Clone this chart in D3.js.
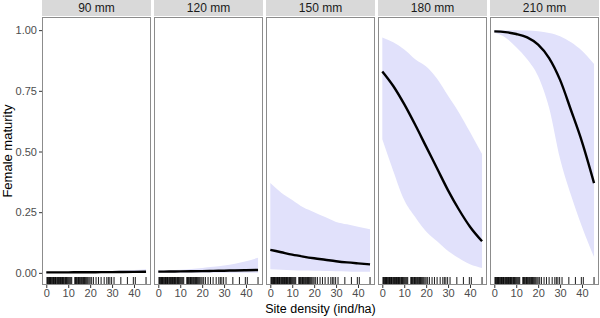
<!DOCTYPE html>
<html>
<head>
<meta charset="utf-8">
<script src="https://cdn.jsdelivr.net/npm/d3@7"></script>
<style>
  body { margin: 0; background: #fff; }
  text { font-family: "Liberation Sans", Arial, sans-serif; }
</style>
</head>
<body>
<div id="chart"></div>
<script>
// panels (fish size)
const panels = ["90 mm", "120 mm", "150 mm", "180 mm", "210 mm"];

// x positions where the fitted curve is read
const xGrid = [0, 5, 10, 15, 20, 25, 30, 35, 40, 45.5];

// fitted probability of maturity per panel
const fitValues = [
  [0.002, 0.002, 0.002, 0.0025, 0.0025, 0.003, 0.003, 0.0035, 0.004, 0.0045],
  [0.005, 0.0055, 0.006, 0.0065, 0.007, 0.008, 0.009, 0.010, 0.011, 0.012],
  [0.095, 0.085, 0.075, 0.067, 0.060, 0.054, 0.048, 0.043, 0.039, 0.035],
  [0.83, 0.77, 0.695, 0.61, 0.52, 0.43, 0.34, 0.26, 0.19, 0.13],
  [0.995, 0.992, 0.984, 0.97, 0.94, 0.885, 0.795, 0.67, 0.54, 0.37]
];

// confidence band, lower and upper
const lowerValues = [
  [0.0, 0.0, 0.0, 0.0, 0.0, 0.0, 0.0, 0.0, 0.0, 0.0],
  [0.0, 0.0, 0.0, 0.0, 0.0, 0.0, 0.0, 0.0, 0.0, 0.0],
  [0.015, 0.013, 0.011, 0.010, 0.009, 0.008, 0.007, 0.006, 0.005, 0.005],
  [0.55, 0.42, 0.30, 0.23, 0.17, 0.13, 0.09, 0.06, 0.035, 0.02],
  [0.99, 0.97, 0.93, 0.88, 0.81, 0.68, 0.47, 0.32, 0.19, 0.065]
];
const upperValues = [
  [0.003, 0.0035, 0.004, 0.005, 0.006, 0.007, 0.008, 0.010, 0.012, 0.015],
  [0.010, 0.011, 0.013, 0.016, 0.020, 0.025, 0.030, 0.038, 0.048, 0.062],
  [0.37, 0.33, 0.30, 0.27, 0.25, 0.23, 0.21, 0.20, 0.19, 0.18],
  [0.97, 0.95, 0.92, 0.88, 0.85, 0.80, 0.73, 0.66, 0.58, 0.49],
  [1.0, 1.0, 1.0, 0.998, 0.995, 0.988, 0.975, 0.95, 0.915, 0.86]
];

// observed site densities (rug)
const siteDensity = [
  0.3, 0.6, 0.9, 1.2, 1.5, 1.8, 2.0, 2.3, 2.7, 3.0, 3.3, 3.6, 3.9, 4.2, 4.5,
  4.9, 5.2, 5.5, 5.8, 6.1, 6.5, 6.8, 7.1, 7.4, 7.8, 8.1, 8.5, 8.8, 9.2, 9.6,
  10.0, 10.4, 10.8, 11.2, 11.6,
  13.0, 13.3, 13.7, 14.0, 14.4, 14.7, 15.1, 15.5, 15.9, 16.2, 16.6, 17.0,
  17.4, 17.8, 18.2, 18.6, 19.0, 19.5, 20.0, 20.7,
  21.5, 22.7, 23.8, 25.0, 26.4, 27.6, 28.3, 29.0, 29.8, 30.9, 34.0, 37.0,
  39.7, 40.6, 45.5
];

const xTicks = [0, 10, 20, 30, 40];
const yTicks = [0, 0.25, 0.5, 0.75, 1];

const W = 600, H = 318;
const padLeft = 42, padRight = 599, panelTop = 17, stripH = 16, panelBottom = 285;
const gap = 3;
const panelW = (padRight - padLeft - gap * (panels.length - 1)) / panels.length;

const svg = d3.select("#chart").append("svg")
  .attr("width", W).attr("height", H);

const y = d3.scaleLinear().domain([-0.05, 1.05]).range([panelBottom, panelTop + 1]);

// y axis on the first panel
const yAxis = svg.append("g")
  .attr("transform", `translate(${padLeft},0)`)
  .call(d3.axisLeft(y).tickValues(yTicks).tickFormat(d3.format(".2f")).tickSize(3).tickPadding(2));
yAxis.select(".domain").remove();
yAxis.selectAll("line").attr("stroke", "#333");
yAxis.selectAll("text").attr("fill", "#4d4d4d").style("font-size", "11px")
  .style("font-family", "Liberation Sans, Arial, sans-serif");

panels.forEach((name, i) => {
  const x0 = padLeft + i * (panelW + gap);
  const x = d3.scaleLinear().domain([-1.96, 47.76]).range([x0, x0 + panelW]);
  const g = svg.append("g");

  // strip
  g.append("rect")
    .attr("x", x0).attr("y", 0).attr("width", panelW).attr("height", stripH)
    .attr("fill", "#d9d9d9");
  g.append("text")
    .attr("x", x0 + panelW / 2).attr("y", stripH / 2 + 1)
    .attr("text-anchor", "middle").attr("dominant-baseline", "middle")
    .attr("fill", "#1a1a1a").style("font-size", "12px")
    .text(name);

  // confidence band
  const band = xGrid.map((xv, j) => ({ x: xv, lo: lowerValues[i][j], hi: upperValues[i][j] }));
  g.append("path")
    .datum(band)
    .attr("fill", "#e1e1fb")
    .attr("d", d3.area().x(d => x(d.x)).y0(d => y(d.lo)).y1(d => y(d.hi)).curve(d3.curveMonotoneX));

  // fitted line
  const fit = xGrid.map((xv, j) => ({ x: xv, p: fitValues[i][j] }));
  g.append("path")
    .datum(fit)
    .attr("fill", "none").attr("stroke", "#000").attr("stroke-width", 2.4)
    .attr("d", d3.line().x(d => x(d.x)).y(d => y(d.p)).curve(d3.curveMonotoneX));

  // rug
  g.selectAll(".rug").data(siteDensity).join("line")
    .attr("x1", d => x(d)).attr("x2", d => x(d))
    .attr("y1", panelBottom - 8).attr("y2", panelBottom)
    .attr("stroke", "#000").attr("stroke-width", 0.9);

  // panel border
  g.append("rect")
    .attr("x", x0 + 0.5).attr("y", panelTop + 0.5).attr("width", panelW - 1).attr("height", panelBottom - panelTop - 1)
    .attr("fill", "none").attr("stroke", "#8c8c8c").attr("stroke-width", 1);

  // x axis
  const xAxis = g.append("g")
    .attr("transform", `translate(0,${panelBottom})`)
    .call(d3.axisBottom(x).tickValues(xTicks).tickSize(3).tickPadding(1));
  xAxis.select(".domain").remove();
  xAxis.selectAll("line").attr("stroke", "#333");
  xAxis.selectAll("text").attr("fill", "#4d4d4d").style("font-size", "11px")
    .style("font-family", "Liberation Sans, Arial, sans-serif");
});

// axis titles
svg.append("text")
  .attr("x", (padLeft + padRight) / 2).attr("y", 313)
  .attr("text-anchor", "middle").attr("fill", "#000").style("font-size", "12.5px")
  .text("Site density (ind/ha)");

svg.append("text")
  .attr("transform", `translate(12,${(panelTop + panelBottom) / 2}) rotate(-90)`)
  .attr("text-anchor", "middle").attr("fill", "#000").style("font-size", "13px")
  .text("Female maturity");
</script>
</body>
</html>
